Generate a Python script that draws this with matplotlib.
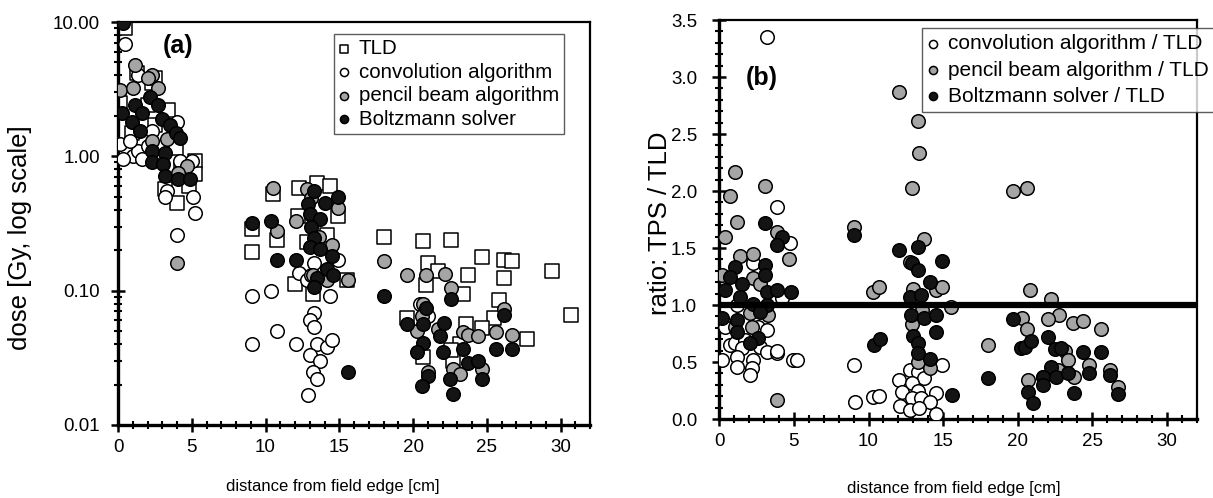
"""Dose vs distance from field edge: TLD vs TPS algorithms, and TPS/TLD ratios."""

import matplotlib.pyplot as plt
import numpy as np
from matplotlib.ticker import FixedLocator, FuncFormatter, LogLocator, MultipleLocator, NullFormatter

plt.rcParams["font.family"] = ["Liberation Sans", "DejaVu Sans"]

# ---- panel (a): dose [Gy] ----
tld_x = [0.5, 1.3, 2.3, 0.13, 2.0, 0.95, 2.5, 3.9, 4.3, 5.2, 5.2, 4.8, 3.2, 4.0, 2.5, 3.4,
         10.5, 9.1, 9.1, 10.8, 12.3, 13.5, 14.4, 12.2, 14.9, 14.2, 12.8, 12.0, 13.2, 15.5,
         18.0, 20.7, 22.6, 24.7, 26.2, 26.7, 29.4, 21.0, 21.7, 23.7, 26.2, 20.9, 23.4, 25.8,
         19.6, 25.5, 23.6, 24.7, 27.7, 30.7, 23.2, 20.7, 22.7, 22.6]
tld_y = [9.0, 4.2, 3.5, 2.5, 2.4, 1.5, 1.7, 1.15, 0.82, 0.93, 0.74, 0.6, 0.57, 0.45, 3.8, 2.2,
         0.525, 0.29, 0.195, 0.24, 0.58, 0.63, 0.6, 0.36, 0.36, 0.26, 0.23, 0.112, 0.095, 0.12,
         0.25, 0.235, 0.24, 0.178, 0.17, 0.165, 0.14, 0.16, 0.14, 0.13, 0.125, 0.11, 0.094, 0.085,
         0.063, 0.063, 0.056, 0.053, 0.044, 0.066, 0.04, 0.032, 0.03, 0.036]

conv_x = [0.47, 1.35, 0.13, 1.0, 1.35, 0.35, 1.6, 4.0, 2.3, 4.2, 5.0, 3.3, 3.2, 5.1, 5.2, 4.0, 0.8, 2.0, 2.8,
          9.1, 10.4, 9.1, 10.8, 12.1, 13.3, 13.0, 13.3, 13.5, 14.2, 14.5, 13.0, 13.7, 13.2, 13.5, 12.9,
          12.3, 13.3, 12.8, 14.9, 14.4, 13.1,
          20.5, 21.0]
conv_y = [6.9, 4.0, 1.24, 1.0, 1.1, 0.95, 0.95, 1.8, 1.55, 0.93, 0.92, 0.55, 0.5, 0.5, 0.38, 0.26, 1.3, 1.2, 1.0,
          0.091, 0.10, 0.040, 0.05, 0.04, 0.068, 0.06, 0.054, 0.04, 0.038, 0.043, 0.033, 0.030, 0.025, 0.022, 0.0166,
          0.135, 0.16, 0.12, 0.17, 0.091, 0.13,
          0.08, 0.065]

pen_x = [1.15, 2.3, 0.15, 1.0, 2.7, 2.0, 2.3, 3.3, 4.7, 4.1, 4.0,
         10.5, 10.8, 12.1, 12.8, 14.9, 14.5, 13.2, 14.2, 15.6, 13.1, 13.6,
         18.0, 19.6, 20.9, 22.2, 22.6, 20.7, 26.2, 20.6, 21.7, 20.3, 23.4, 23.7, 24.4, 25.6, 26.7,
         21.0, 22.7, 23.2, 24.7]
pen_y = [4.8, 4.0, 3.1, 3.2, 3.2, 3.8, 1.3, 1.35, 0.85, 0.75, 0.16,
         0.58, 0.28, 0.33, 0.57, 0.41, 0.22, 0.13, 0.12, 0.12, 0.49, 0.25,
         0.166, 0.13, 0.13, 0.134, 0.105, 0.079, 0.073, 0.065, 0.052, 0.05, 0.049, 0.047, 0.046, 0.049, 0.047,
         0.025, 0.026, 0.024, 0.026]

bz_x = [0.34, 2.2, 2.7, 1.15, 0.27, 1.6, 0.95, 3.0, 3.5, 1.5, 3.9, 4.2, 2.3, 3.2, 2.3, 3.05, 3.2, 4.1, 4.9,
        9.1, 10.4, 10.8, 12.1, 13.3, 14.0, 14.9, 12.9, 13.0, 13.7, 13.1, 13.3, 13.0, 13.7, 14.5, 14.2, 14.6,
        13.5, 13.3, 15.6,
        18.0, 22.6, 20.9, 26.2, 19.6, 20.7, 22.1, 21.8, 20.7, 23.4, 25.6, 26.7, 22.0, 20.3, 23.7, 24.4, 21.0,
        22.5, 24.7, 20.6, 22.7]
bz_y = [9.8, 2.75, 2.4, 2.4, 2.1, 2.1, 1.8, 1.9, 1.7, 1.55, 1.48, 1.36, 1.1, 1.05, 0.9, 0.87, 0.72, 0.68, 0.68,
        0.32, 0.33, 0.17, 0.17, 0.55, 0.45, 0.5, 0.44, 0.37, 0.34, 0.30, 0.245, 0.21, 0.205, 0.18, 0.145, 0.13,
        0.125, 0.107, 0.025,
        0.091, 0.087, 0.074, 0.066, 0.056, 0.056, 0.057, 0.046, 0.041, 0.037, 0.037, 0.037, 0.035, 0.035, 0.029,
        0.03, 0.023, 0.022, 0.022, 0.0195, 0.017]

# ---- panel (b): ratio TPS / TLD ----
rconv_x = [3.2, 3.86, 4.75, 2.27, 4.2, 1.2, 0.38, 2.6, 3.2, 0.72, 1.05, 1.72, 1.5, 2.73, 3.2, 3.86, 3.9,
           0.2, 1.2, 1.2, 2.27, 2.2, 2.05, 4.95, 5.2,
           9.0, 9.1, 10.3, 10.7, 12.05, 12.8, 13.3, 14.95, 13.7, 12.9, 12.25, 13.3, 14.5, 12.9, 13.5, 14.1,
           12.1, 12.8, 13.4, 14.55]
rconv_y = [3.35, 1.86, 1.54, 1.37, 1.06, 1.0, 0.81, 0.81, 0.78, 0.65, 0.67, 0.69, 0.62, 0.63, 0.59, 0.58, 0.6,
           0.52, 0.54, 0.46, 0.52, 0.45, 0.39, 0.52, 0.52,
           0.47, 0.15, 0.19, 0.2, 0.34, 0.43, 0.41, 0.47, 0.36, 0.32, 0.24, 0.25, 0.23, 0.18, 0.18, 0.15,
           0.11, 0.08, 0.095, 0.04]

rpen_x = [1.05, 0.72, 3.07, 1.2, 0.38, 3.9, 1.4, 2.27, 0.2, 4.7, 2.27, 2.73, 2.05, 3.25, 2.2, 3.86, 1.05,
          12.05, 13.3, 13.4, 12.9, 9.0, 13.7, 12.8, 10.3, 10.7, 14.5, 14.9, 15.5, 13.0, 12.9, 13.6, 13.35, 14.1,
          19.7, 20.65, 20.85, 22.2, 22.75, 20.3, 20.65, 22.0, 23.7, 24.4, 25.6, 18.0, 23.2, 23.4, 24.75, 26.2,
          22.7, 23.75, 21.7, 20.7, 26.7]
rpen_y = [2.17, 1.96, 2.04, 1.73, 1.6, 1.64, 1.43, 1.45, 1.26, 1.4, 1.24, 1.18, 0.93, 0.91, 0.81, 0.17, 0.81,
          2.87, 2.61, 2.33, 2.03, 1.68, 1.58, 1.38, 1.11, 1.16, 1.13, 1.16, 0.98, 1.14, 0.83, 0.96, 0.5, 0.45,
          2.0, 2.03, 1.13, 1.05, 0.91, 0.89, 0.79, 0.88, 0.84, 0.86, 0.79, 0.65, 0.6, 0.52, 0.47, 0.43,
          0.43, 0.37, 0.37, 0.34, 0.28]

rbz_x = [3.07, 4.2, 3.9, 1.05, 0.72, 3.07, 3.07, 1.5, 0.38, 3.2, 3.85, 4.8, 1.4, 2.27, 3.2, 2.73, 0.2, 1.2,
         1.2, 2.6, 2.05,
         9.0, 12.05, 13.3, 12.9, 13.3, 14.9, 14.1, 12.8, 13.5, 12.85, 13.7, 14.5, 14.55, 13.0, 13.3, 13.35,
         14.1, 10.4, 10.8, 15.6,
         19.7, 20.2, 20.5, 20.9, 22.0, 22.5, 22.9, 24.4, 25.6, 22.2, 21.7, 22.6, 23.4, 24.75, 26.2, 18.0,
         21.7, 20.7, 21.05, 23.75, 26.7]
rbz_y = [1.72, 1.6, 1.53, 1.33, 1.25, 1.35, 1.26, 1.18, 1.13, 1.11, 1.13, 1.11, 1.07, 1.01, 1.0, 0.94, 0.89,
         0.87, 0.76, 0.71, 0.67,
         1.61, 1.48, 1.51, 1.37, 1.31, 1.39, 1.2, 1.07, 1.09, 0.91, 0.89, 0.91, 0.76, 0.73, 0.67, 0.58,
         0.53, 0.65, 0.70, 0.21,
         0.88, 0.62, 0.63, 0.68, 0.72, 0.61, 0.62, 0.59, 0.59, 0.46, 0.37, 0.37, 0.4, 0.4, 0.39, 0.36,
         0.3, 0.24, 0.14, 0.23, 0.22]

GRAY = "#a5a5a5"
BLACK = "#141414"
S = 95

fig = plt.figure(figsize=(12.13, 4.98), dpi=100)
ax1 = fig.add_axes([0.0973, 0.1466, 0.3891, 0.8092])
ax2 = fig.add_axes([0.593, 0.1586, 0.3936, 0.8012])


def style_axis(ax, ypad):
    for side in ["left", "bottom"]:
        ax.spines[side].set_linewidth(2.4)
    for side in ["top", "right"]:
        ax.spines[side].set_linewidth(1.6)
    ax.tick_params(which="major", direction="inout", length=10, width=1.8, labelsize=13.5)
    ax.tick_params(which="minor", direction="inout", length=6, width=1.5)
    ax.tick_params(axis="x", which="major", pad=5)
    ax.tick_params(axis="y", which="major", pad=ypad)
    ax.tick_params(top=False, right=False, which="both")
    ax.xaxis.set_major_locator(MultipleLocator(5))
    ax.xaxis.set_minor_locator(MultipleLocator(1))
    ax.set_xlim(0, 32)


# panel (a)
ax1.scatter(tld_x, tld_y, s=S, marker="s", facecolor="white", edgecolor="black", linewidth=1.1,
            label="TLD", zorder=2)
ax1.scatter(conv_x, conv_y, s=S, marker="o", facecolor="white", edgecolor="black", linewidth=1.1,
            label="convolution algorithm", zorder=3)
ax1.scatter(pen_x, pen_y, s=S, marker="o", facecolor=GRAY, edgecolor="black", linewidth=1.1,
            label="pencil beam algorithm", zorder=4)
ax1.scatter(bz_x, bz_y, s=S, marker="o", facecolor=BLACK, edgecolor="black", linewidth=1.1,
            label="Boltzmann solver", zorder=5)
ax1.set_yscale("log")
ax1.set_ylim(0.01, 10)
style_axis(ax1, 8)
ax1.yaxis.set_major_locator(FixedLocator([0.01, 0.1, 1, 10]))
ax1.yaxis.set_minor_locator(LogLocator(base=10, subs=np.arange(2, 10)))
ax1.yaxis.set_major_formatter(FuncFormatter(lambda v, p: f"{v:.2f}"))
ax1.yaxis.set_minor_formatter(NullFormatter())
ax1.set_ylabel("dose [Gy, log scale]", fontsize=18.5)
ax1.yaxis.set_label_coords(-0.182, 0.464)
ax1.set_xlabel("distance from field edge [cm]", fontsize=12)
ax1.xaxis.set_label_coords(0.455, -0.135)
ax1.text(0.095, 0.94, "(a)", transform=ax1.transAxes, fontsize=18, fontweight="bold", va="center")
leg1 = ax1.legend(loc="upper left", bbox_to_anchor=(334 / 1213, 1 - 34 / 498),
                  bbox_transform=fig.transFigure, fontsize=14.8, frameon=True, fancybox=False,
                  edgecolor="#333333", markerscale=0.6, handlelength=0.5, handletextpad=0.45,
                  labelspacing=0.22, borderpad=0.25, borderaxespad=0)
leg1.get_frame().set_linewidth(1.0)

# panel (b)
ax2.scatter(rconv_x, rconv_y, s=S, marker="o", facecolor="white", edgecolor="black", linewidth=1.1,
            label="convolution algorithm / TLD", zorder=3)
ax2.scatter(rpen_x, rpen_y, s=S, marker="o", facecolor=GRAY, edgecolor="black", linewidth=1.1,
            label="pencil beam algorithm / TLD", zorder=4)
ax2.scatter(rbz_x, rbz_y, s=S, marker="o", facecolor=BLACK, edgecolor="black", linewidth=1.1,
            label="Boltzmann solver / TLD", zorder=5)
ax2.axhline(1.0, color="black", linewidth=4.5, zorder=6)
ax2.set_ylim(0, 3.5)
style_axis(ax2, 11)
ax2.yaxis.set_major_locator(MultipleLocator(0.5))
ax2.yaxis.set_minor_locator(MultipleLocator(0.1))
ax2.yaxis.set_major_formatter(FuncFormatter(lambda v, p: f"{v:.1f}"))
ax2.set_ylabel("ratio: TPS / TLD", fontsize=18.5)
ax2.yaxis.set_label_coords(-0.099, 0.49)
ax2.set_xlabel("distance from field edge [cm]", fontsize=12)
ax2.xaxis.set_label_coords(0.49, -0.155)
ax2.text(0.055, 0.855, "(b)", transform=ax2.transAxes, fontsize=18, fontweight="bold", va="center")
leg2 = ax2.legend(loc="upper left", bbox_to_anchor=(922 / 1213, 1 - 28 / 498),
                  bbox_transform=fig.transFigure, fontsize=15, frameon=True, fancybox=False,
                  edgecolor="#333333", markerscale=0.6, handlelength=0.5, handletextpad=0.45,
                  labelspacing=0.35, borderpad=0.3, borderaxespad=0)
leg2.get_frame().set_linewidth(1.0)

plt.savefig("out.png", dpi=100)
